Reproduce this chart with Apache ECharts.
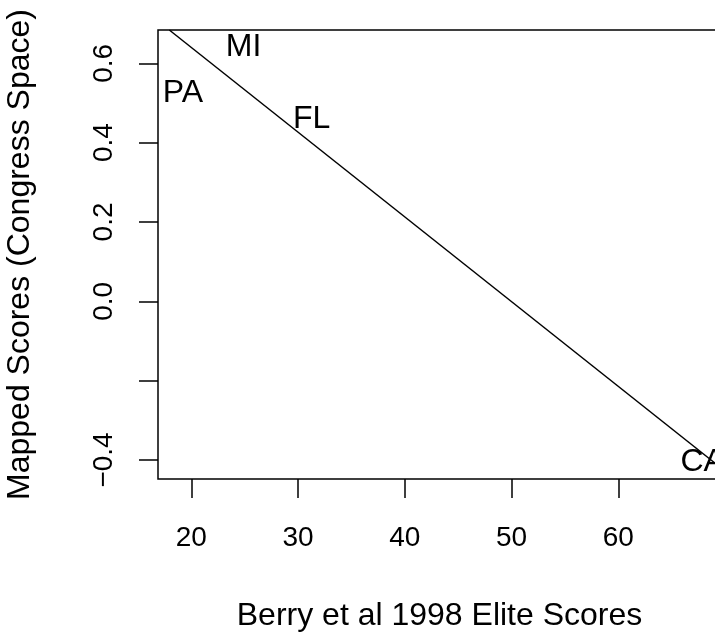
<!DOCTYPE html>
<html>
<head>
<meta charset="utf-8">
<script src="https://cdn.jsdelivr.net/npm/echarts@6/dist/echarts.min.js"></script>
<style>
html,body{margin:0;padding:0;background:#fff;}
#c{width:715px;height:635px;}
</style>
</head>
<body>
<div id="c"></div>
<script>
// State labels placed at (elite score, mapped score)
var states = ['PA', 'MI', 'FL', 'CA'];
var eliteScores = [19.22, 24.9, 31.28, 67.9];
var mappedScores = [0.524, 0.641, 0.458, -0.406];

// Fitted line endpoints
var lineX = [17.94, 69.62];
var lineY = [0.684, -0.420];

// Axis ticks and labels
var xTicks = [20, 30, 40, 50, 60];
var xTickLabels = ['20', '30', '40', '50', '60'];
var yTicks = [-0.4, -0.2, 0, 0.2, 0.4, 0.6];
var yLabelValues = [-0.4, 0, 0.2, 0.4, 0.6];
var yTickLabels = ['\u22120.4', '0.0', '0.2', '0.4', '0.6'];

var FONT = 'Liberation Sans, Arial, Helvetica, sans-serif';

var chart = echarts.init(document.getElementById('c'), null, {renderer: 'canvas'});

var textData = states.map(function (s, i) { return {name: s, value: [eliteScores[i], mappedScores[i]]}; });
var lineData = lineX.map(function (x, i) { return [x, lineY[i]]; });

chart.setOption({
  animation: false,
  backgroundColor: '#fff',
  grid: {left: 158, top: 30, width: 563, height: 449, show: true, borderColor: '#000', borderWidth: 1.5,
    containLabel: false, outerBoundsMode: 'none'},
  xAxis: {
    type: 'value', min: 16.88, max: 69.62,
    name: 'Berry et al 1998 Elite Scores', nameLocation: 'middle', nameGap: 121,
    nameTextStyle: {fontFamily: FONT, fontSize: 32, color: '#000'},
    axisLine: {show: false, onZero: false},
    splitLine: {show: false},
    axisTick: {show: true, length: 19, inside: false, lineStyle: {color: '#000', width: 1.5}, customValues: xTicks},
    axisLabel: {show: true, margin: 45, fontFamily: FONT, fontSize: 28, color: '#000', customValues: xTicks,
      formatter: function (v) { var i = xTicks.indexOf(Math.round(v)); return i >= 0 ? xTickLabels[i] : ''; }}
  },
  yAxis: {
    type: 'value', min: -0.448, max: 0.684,
    name: 'Mapped Scores (Congress Space)', nameLocation: 'middle', nameGap: 122, nameRotate: 90,
    nameTextStyle: {fontFamily: FONT, fontSize: 32, color: '#000'},
    axisLine: {show: false, onZero: false},
    splitLine: {show: false},
    axisTick: {show: true, length: 19, inside: false, lineStyle: {color: '#000', width: 1.5}, customValues: yTicks},
    axisLabel: {show: true, margin: 40, rotate: 90, fontFamily: FONT, fontSize: 28, color: '#000', customValues: yLabelValues,
      formatter: function (v) {
        for (var i = 0; i < yLabelValues.length; i++) { if (Math.abs(yLabelValues[i] - v) < 1e-6) return yTickLabels[i]; }
        return '';
      }}
  },
  series: [
    {
      type: 'line', data: lineData, showSymbol: false, symbol: 'none', clip: true,
      lineStyle: {color: '#000', width: 1.5}, silent: true
    },
    {
      type: 'scatter', data: textData, symbolSize: 0, clip: false, silent: true,
      itemStyle: {opacity: 1, color: '#000'},
      label: {show: true, position: 'inside', formatter: '{b}', fontFamily: FONT, fontSize: 32, color: '#000',
        align: 'center', verticalAlign: 'middle', opacity: 1}
    }
  ]
});
</script>
</body>
</html>
